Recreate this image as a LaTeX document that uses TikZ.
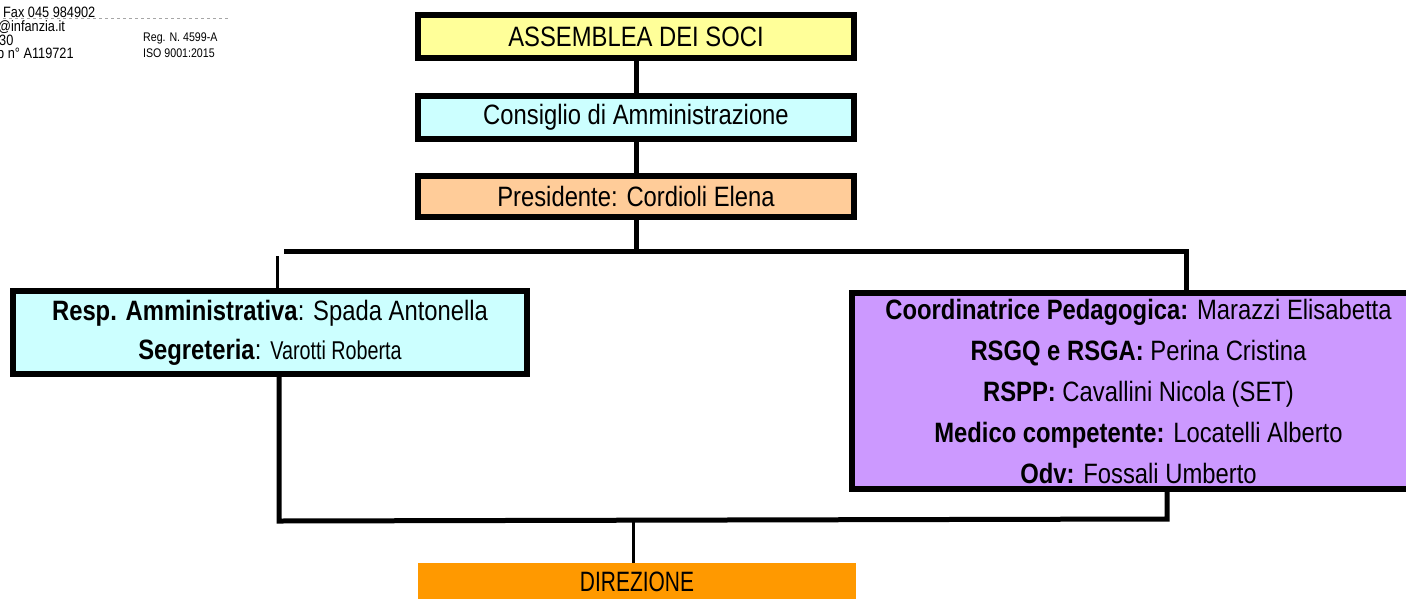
\documentclass[tikz,border=0pt]{standalone}
\usepackage{fontspec}
\setmainfont{Liberation Sans}[FakeStretch=0.85]
\definecolor{yel}{HTML}{FFFF99}
\definecolor{cya}{HTML}{CCFFFF}
\definecolor{pea}{HTML}{FFCC99}
\definecolor{pur}{HTML}{CC99FF}
\definecolor{ora}{HTML}{FF9900}
\tikzset{
  box/.style={draw=black, line width=6pt, inner sep=0pt, align=center, font=\fontsize{28}{28}\selectfont},
  conn/.style={line width=5pt, line join=miter},
  thinconn/.style={line width=3pt},
  hdr/.style={anchor=west, inner sep=0pt, font=\fontsize{15}{15}\selectfont},
  hdrs/.style={anchor=west, inner sep=0pt, font=\fontsize{12.5}{12.5}\selectfont}
}
\begin{document}
\begin{tikzpicture}[x=1pt,y=-1pt]
\useasboundingbox (0,0) rectangle (1406,598);
% header remnants
\node[hdr] (h1) at (3,12) {Fax 045 984902};
\node[hdr] (h2) at (-2,27) {@infanzia.it};
\node[hdr] (h3) at (-1,40) {30};
\node[hdr] (h4) at (-3,55) {p n° A119721};
\node[hdrs] (h5) at (143,38) {Reg. N. 4599-A};
\node[hdrs] (h6) at (143,53) {ISO 9001:2015};
\coordinate (hA) at (3,18.5);
\coordinate (hB) at (230,18.5);
\draw[gray!70, dashed, line width=0.6pt] (hA) -- (hB);
% boxes
\node[box, fill=yel, minimum width=436pt, minimum height=43pt] (ass) at (636,36.5) {ASSEMBLEA DEI SOCI};
\node[box, fill=cya, minimum width=436pt, minimum height=43pt] (cda) at (636,117.5) {Consiglio di Amministrazione};
\node[box, fill=pea, minimum width=436pt, minimum height=41pt] (pres) at (636,196.5) {Presidente: Cordioli Elena};
\node[box, fill=cya, minimum width=514pt, minimum height=83pt, font=\fontsize{28}{39}\selectfont] (amm) at (270,332.5)
  {\textbf{Resp. Amministrativa}: Spada Antonella\\ \textbf{Segreteria}: \scalebox{0.83}[0.92]{Varotti Roberta}};
\node[box, fill=pur, minimum width=573pt, minimum height=196pt, font=\fontsize{28}{41}\selectfont] (coord) at (1138.5,391)
  {\textbf{Coordinatrice Pedagogica:} Marazzi Elisabetta\\
   \textbf{RSGQ e RSGA:} Perina Cristina\\
   \textbf{RSPP:} Cavallini Nicola (SET)\\
   \textbf{Medico competente:} Locatelli Alberto\\
   \textbf{Odv:} Fossali Umberto};
\node[fill=ora, minimum width=438pt, minimum height=38pt, inner sep=0pt, font=\fontsize{28}{28}\selectfont] (dir) at (637,582) {\scalebox{0.88}[1]{DIREZIONE}};
% connectors
\draw[conn] (ass.south) -- (cda.north);
\draw[conn] (cda.south) -- (pres.north);
\coordinate (barL) at (284,251);
\coordinate (barR) at (1186,251);
\draw[conn] (pres.south) -- (pres.south |- barL);
\draw[conn] (barL) -- (barR) -- (barR |- coord.north);
\coordinate (lt) at (277,256);
\draw[thinconn] (lt) -- (lt |- amm.north);
\coordinate (lb) at (279,521);
\coordinate (rb) at (1167,519);
\draw[conn] (lb |- amm.south) -- (lb) -- (rb) -- (rb |- coord.south);
\coordinate (mid) at (633,521);
\draw[thinconn] (mid) -- (mid |- dir.north);
\end{tikzpicture}
\end{document}
